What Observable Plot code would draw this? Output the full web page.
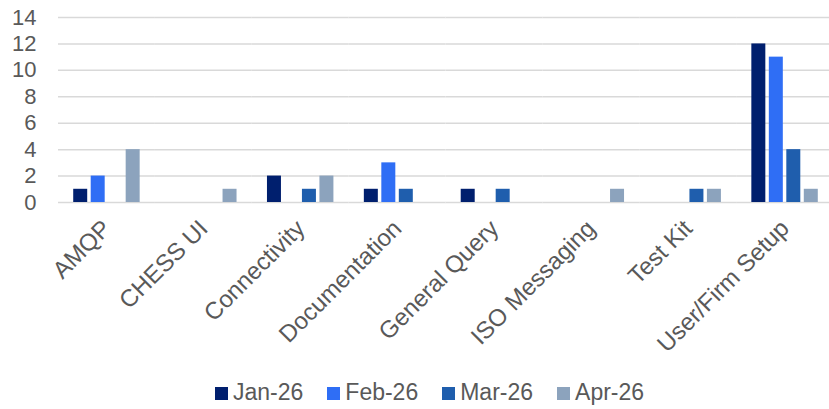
<!DOCTYPE html>
<html>
<head>
<meta charset="utf-8">
<script src="https://cdn.jsdelivr.net/npm/d3@7"></script>
<script src="https://cdn.jsdelivr.net/npm/@observablehq/plot@0.6"></script>
<style>
  html, body { margin: 0; padding: 0; background: #fff; overflow: hidden; }
  #chart { width: 829px; }
  .legend { display: flex; justify-content: flex-start; gap: 24px; font-family: "Liberation Sans", Arial, sans-serif; font-size: 23px; color: #595959; height: 34px; align-items: center; padding-left: 215px; }
  .legend span.sw { display: inline-block; width: 13px; height: 13px; margin-right: 5px; vertical-align: 0px; }
</style>
</head>
<body>
<div id="chart"></div>
<script>
const categories = ["AMQP", "CHESS UI", "Connectivity", "Documentation", "General Query", "ISO Messaging", "Test Kit", "User/Firm Setup"];
const seriesNames = ["Jan-26", "Feb-26", "Mar-26", "Apr-26"];
const jan26 = [1, 0, 2, 1, 1, 0, 0, 12];
const feb26 = [2, 0, 0, 3, 0, 0, 0, 11];
const mar26 = [0, 0, 1, 1, 1, 0, 1, 4];
const apr26 = [4, 1, 2, 0, 0, 1, 1, 1];
const seriesColors = ["#001F6E", "#2F6EF5", "#1F5EAD", "#8CA3BD"];
const yTicks = [0, 2, 4, 6, 8, 10, 12, 14];

const seriesValues = [jan26, feb26, mar26, apr26];
const data = [];
categories.forEach((c, i) => {
  seriesNames.forEach((s, j) => {
    data.push({category: c, series: s, value: seriesValues[j][i]});
  });
});

const font = '"Liberation Sans", Arial, sans-serif';

const plot = Plot.plot({
  width: 829,
  height: 375,
  marginLeft: 58,
  marginRight: -4,
  marginTop: 17,
  marginBottom: 173,
  style: {fontFamily: font, fontSize: "22px", color: "#595959", background: "#fff", overflow: "visible"},
  fx: {domain: categories, paddingInner: 0, paddingOuter: 0, round: false, label: null},
  x: {domain: seriesNames, paddingInner: 0.2, paddingOuter: 0.87, round: false, axis: null},
  y: {domain: [0, 14], label: null},
  color: {domain: seriesNames, range: seriesColors},
  marks: [
    Plot.ruleY(yTicks, {stroke: "#d9d9d9", strokeWidth: 1.5}),
    Plot.barY(data, {fx: "category", x: "series", y: "value", fill: "series", inset: 0}),
    Plot.axisY(yTicks, {tickSize: 0, tickPadding: 22, fontSize: 22, fill: "#595959", label: null}),
    Plot.axisFx({anchor: "bottom", tickSize: 0, tickRotate: -45, tickPadding: 22, fontSize: 24, fill: "#595959", label: null})
  ]
});
document.getElementById("chart").appendChild(plot);

const legend = document.createElement("div");
legend.className = "legend";
seriesNames.forEach((s, j) => {
  const item = document.createElement("div");
  item.innerHTML = `<span class="sw" style="background:${seriesColors[j]}"></span>${s}`;
  legend.appendChild(item);
});
document.getElementById("chart").appendChild(legend);
</script>
</body>
</html>
